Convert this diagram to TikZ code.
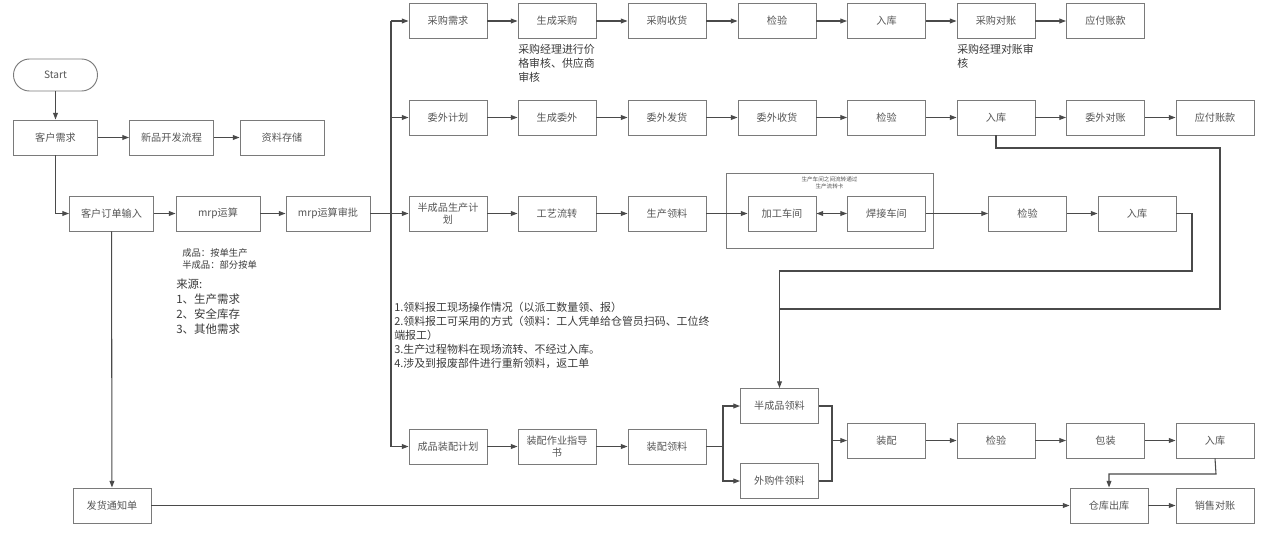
\documentclass[tikz,border=0pt]{standalone}
\usepackage{fontspec}
\setmainfont{Noto Sans CJK SC}
\usetikzlibrary{arrows.meta}
\definecolor{boxc}{HTML}{7A7A7A}
\definecolor{linec}{HTML}{4A4A4A}
\definecolor{txtc}{HTML}{555555}
\definecolor{notec}{HTML}{3A3A3A}
\tikzset{
  box/.style={draw=boxc, line width=0.7pt, rectangle, inner sep=1pt, minimum width=58.5pt, minimum height=26.25pt, align=center, text=txtc, font=\fontsize{7.6}{9.5}\selectfont},
  wbox/.style={box, minimum width=63pt},
  conn/.style={draw=linec, line width=0.8pt},
  arr/.style={conn, -{Triangle[length=5pt,width=3.6pt]}},
  darr/.style={conn, {Triangle[length=5pt,width=3.6pt]}-{Triangle[length=5pt,width=3.6pt]}},
  note/.style={align=left, anchor=north west, inner sep=0pt, text=notec},
}
\begin{document}
\begin{tikzpicture}[x=0.75pt, y=-0.75pt]
\useasboundingbox (0,0) rectangle (1276,536);
% left column
\node[wbox, rounded corners=12pt, minimum height=24pt] (start) at (55.5,75) {Start};
\node[wbox] (kh) at (55.5,137.5) {客户需求};
\node[wbox] (xp) at (171.5,137.5) {新品开发流程};
\node[wbox] (zl) at (282,137.5) {资料存储};
\node[wbox] (dd) at (111.5,213.5) {客户订单输入};
\node[wbox] (mrp) at (218,213.5) {mrp运算};
\node[wbox] (mrpsp) at (328,213.5) {mrp运算审批};
\node[box] (fh) at (112,505.5) {发货通知单};
% row 1
\node[box] (cgxq) at (448,21) {采购需求};
\node[box] (sccg) at (557,21) {生成采购};
\node[box] (cgsh) at (667,21) {采购收货};
\node[box] (jy1) at (777,21) {检验};
\node[box] (rk1) at (886.5,21) {入库};
\node[box] (cgdz) at (996,21) {采购对账};
\node[box] (yf1) at (1105.5,21) {应付账款};
% row 2
\node[box] (wwjh) at (448,117.5) {委外计划};
\node[box] (scww) at (557,117.5) {生成委外};
\node[box] (wwfh) at (667,117.5) {委外发货};
\node[box] (wwsh) at (777,117.5) {委外收货};
\node[box] (jy2) at (886.5,117.5) {检验};
\node[box] (rk2) at (996,117.5) {入库};
\node[box] (wwdz) at (1105.5,117.5) {委外对账};
\node[box] (yf2) at (1215,117.5) {应付账款};
% row 3
\node[draw=boxc, line width=0.7pt, minimum width=155.25pt, minimum height=56.25pt, inner sep=0pt] (cont) at (829.5,210.5) {};
\node[anchor=north, inner sep=0pt, text=txtc, align=center, font=\fontsize{4.2}{5.2}\selectfont] (contl) at (829.5,176.5) {生产车间之间流转通过\\生产流转卡};
\node[box] (bcp) at (448,213.5) {半成品生产计\\划};
\node[box] (gy) at (557,213.5) {工艺流转};
\node[box] (scll) at (667,213.5) {生产领料};
\node[box, minimum width=51pt] (jg) at (782,213.5) {加工车间};
\node[box] (hj) at (886.5,213.5) {焊接车间};
\node[box] (jy3) at (1027.5,213.5) {检验};
\node[box] (rk3) at (1137,213.5) {入库};
% row 5
\node[box] (cpzp) at (448,446.5) {成品装配计划};
\node[box] (zpzd) at (557,446.5) {装配作业指导\\书};
\node[box] (zpll) at (667,446.5) {装配领料};
\node[box] (bcpll) at (779.5,406) {半成品领料};
\node[box] (wgj) at (779.5,481) {外购件领料};
\node[box] (zp) at (886.5,440.5) {装配};
\node[box] (jy5) at (996,440.5) {检验};
\node[box] (bz) at (1105.5,440.5) {包装};
\node[box] (rk5) at (1215,440.5) {入库};
\node[box] (ck) at (1109,505.5) {仓库出库};
\node[box] (xs) at (1215,505.5) {销售对账};
% annotations
\node[note, font=\fontsize{8.2}{10.6}\selectfont] (n1) at (518,44) {采购经理进行价\\格审核、供应商\\审核};
\node[note, font=\fontsize{8.2}{10.6}\selectfont] (n2) at (957,44) {采购经理对账审\\核};
\node[note, font=\fontsize{7}{9}\selectfont] (n3) at (182,248) {成品：按单生产\\半成品：部分按单};
\node[note, font=\fontsize{8.6}{11.2}\selectfont] (n4) at (176,279) {来源:\\1、生产需求\\2、安全库存\\3、其他需求};
\node[note, font=\fontsize{8.2}{10.4}\selectfont] (n5) at (394,302) {1.领料报工现场操作情况（以派工数量领、报）\\2.领料报工可采用的方式（领料：工人凭单给仓管员扫码、工位终\\端报工）\\3.生产过程物料在现场流转、不经过入库。\\4.涉及到报废部件进行重新领料，返工单};
% coordinates
\coordinate (busT) at (391,21);
\coordinate (busB) at (391,446.5);
\coordinate (fork) at (723,446.5);
\coordinate (join) at (832,440.5);
\coordinate (r2a) at (996,148);
\coordinate (r2b) at (1220,148);
\coordinate (r2c) at (1220,309);
\coordinate (r2d) at (779.5,309);
\coordinate (r3a) at (1192,213.5);
\coordinate (r3b) at (1192,271);
\coordinate (r3c) at (779.5,271);
\coordinate (r5a) at (1216,474);
% left connectors
\draw[arr] (start) -- (kh);
\draw[arr] (kh) -- (xp);
\draw[arr] (xp) -- (zl);
\draw[arr] (kh.south) |- (dd.west);
\draw[arr] (dd) -- (mrp);
\draw[arr] (mrp) -- (mrpsp);
\draw[arr] (mrpsp) -- (bcp);
\draw[arr] (dd) -- (fh);
\draw[arr] (fh) -- (ck);
% bus
\draw[conn] (busT) -- (busB);
\draw[arr] (busT) -- (cgxq);
\draw[arr] (wwjh.west -| busT) -- (wwjh);
\draw[arr] (busB) -- (cpzp);
% row 1
\draw[arr] (cgxq) -- (sccg);
\draw[arr] (sccg) -- (cgsh);
\draw[arr] (cgsh) -- (jy1);
\draw[arr] (jy1) -- (rk1);
\draw[arr] (rk1) -- (cgdz);
\draw[arr] (cgdz) -- (yf1);
% row 2
\draw[arr] (wwjh) -- (scww);
\draw[arr] (scww) -- (wwfh);
\draw[arr] (wwfh) -- (wwsh);
\draw[arr] (wwsh) -- (jy2);
\draw[arr] (jy2) -- (rk2);
\draw[arr] (rk2) -- (wwdz);
\draw[arr] (wwdz) -- (yf2);
\draw[conn] (rk2.south) -- (r2a) -- (r2b) -- (r2c) -- (r2d);
% row 3
\draw[arr] (bcp) -- (gy);
\draw[arr] (gy) -- (scll);
\draw[arr] (scll) -- (jg);
\draw[darr] (jg) -- (hj);
\draw[arr] (hj) -- (jy3);
\draw[arr] (jy3) -- (rk3);
\draw[arr] (rk3.east) -- (r3a) -- (r3b) -- (r3c) -- (bcpll.north);
% row 5
\draw[arr] (cpzp) -- (zpzd);
\draw[arr] (zpzd) -- (zpll);
\draw[conn] (zpll) -- (fork);
\draw[arr] (fork) |- (bcpll.west);
\draw[arr] (fork) |- (wgj.west);
\draw[conn] (bcpll.east) -| (join);
\draw[conn] (wgj.east) -| (join);
\draw[arr] (join) -- (zp);
\draw[arr] (zp) -- (jy5);
\draw[arr] (jy5) -- (bz);
\draw[arr] (bz) -- (rk5);
\draw[arr] (rk5.south) -- (r5a) -| (ck.north);
\draw[arr] (ck) -- (xs);
\end{tikzpicture}
\end{document}
